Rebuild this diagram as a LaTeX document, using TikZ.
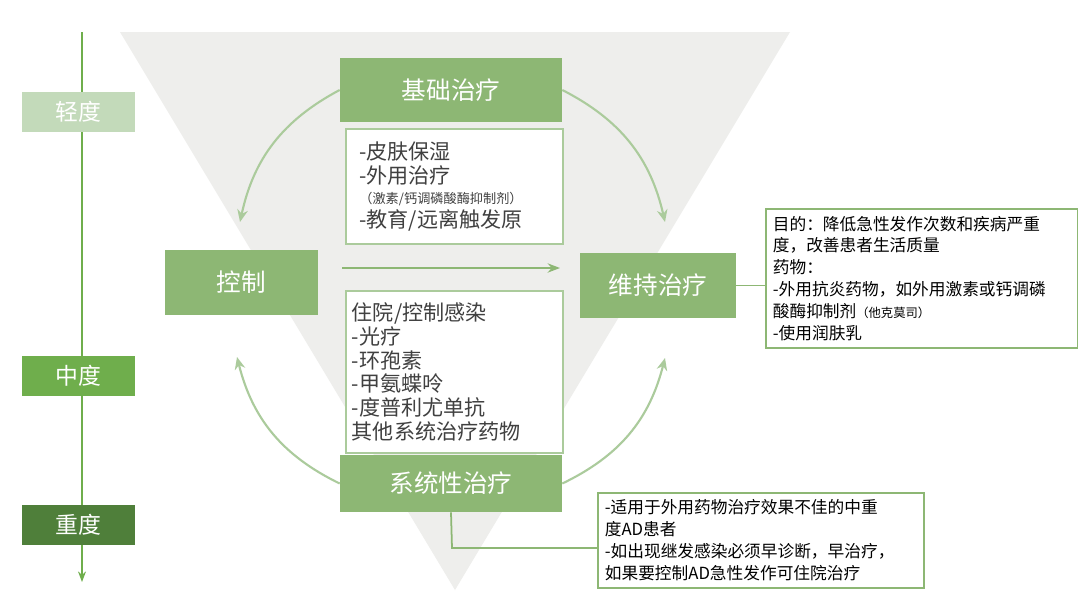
\documentclass[tikz,border=0pt]{standalone}
\usepackage{fontspec}
\setmainfont{Noto Sans CJK SC}
\usetikzlibrary{arrows.meta}
\definecolor{boxgreen}{HTML}{8DB774}
\definecolor{lightgreen}{HTML}{C3DABA}
\definecolor{midgreen}{HTML}{6FAE4C}
\definecolor{darkgreen}{HTML}{4F7F3A}
\definecolor{arcgreen}{HTML}{ABCB9C}
\definecolor{textgray}{HTML}{404040}
\definecolor{trigray}{HTML}{EEEEEC}
\tikzset{
  head/.style={rectangle, fill=boxgreen, text=white, font=\fontsize{14}{16}\selectfont, inner sep=0pt},
  level/.style={rectangle, text=white, font=\fontsize{13}{15}\selectfont, minimum width=2.26cm, minimum height=0.8cm, inner sep=0pt},
  content/.style={draw=arcgreen, line width=1pt, fill=white, text=textgray, align=left, anchor=north west, inner sep=0pt},
  note/.style={draw=boxgreen, line width=1pt, fill=white, text=black, align=left, anchor=north west, inner sep=4pt, font=\fontsize{9.5}{12.5}\selectfont},
  cycle/.style={draw=arcgreen, line width=1.2pt, -{Stealth[length=7pt,width=6pt]}}
}
\begin{document}
\begin{tikzpicture}[x=0.02cm, y=-0.02cm]
\useasboundingbox (0,0) rectangle (1080,599);
\fill[white] (0,0) rectangle (1080,599);
% background triangle
\fill[trigray] (120,32) -- (790,32) -- (455,590) -- cycle;
% severity axis
\coordinate (axis_top) at (82,32);
\coordinate (axis_end) at (82,582);
\draw[midgreen, line width=1.2pt, -{Stealth[length=6pt]}] (axis_top) -- (axis_end);
\node (mild) at (78.5,112) [level, fill=lightgreen] {轻度};
\node (moderate) at (78.5,376) [level, fill=midgreen] {中度};
\node (severe) at (78.5,525) [level, fill=darkgreen] {重度};
% content boxes
\node (basic_list) at (345,128) [content, minimum width=4.34cm, minimum height=2.3cm, text width=3.8cm, inner xsep=0.25cm, inner ysep=0.2cm, font=\fontsize{12}{14}\selectfont] {-皮肤保湿\\-外用治疗\\[-3pt]{\fontsize{7.5}{9}\selectfont （激素/钙调磷酸酶抑制剂）}\\-教育/远离触发原};
\node (systemic_list) at (345,290) [content, minimum width=4.34cm, minimum height=3.24cm, text width=4.1cm, inner xsep=0.12cm, inner ysep=0.08cm, font=\fontsize{12}{13.6}\selectfont] {住院/控制感染\\-光疗\\-环孢素\\-甲氨蝶呤\\-度普利尤单抗\\其他系统治疗药物};
% main boxes
\node (basic) at (451,90) [head, minimum width=4.44cm, minimum height=1.28cm] {基础治疗};
\node (control) at (241.5,282.5) [head, minimum width=3.06cm, minimum height=1.3cm] {控制};
\node (maintain) at (658,285.5) [head, minimum width=3.12cm, minimum height=1.3cm] {维持治疗};
\node (systemic) at (451,483.5) [head, minimum width=4.44cm, minimum height=1.14cm] {系统性治疗};
\node (maintain_note) at (765,208) [note, text width=5.95cm] {目的：降低急性发作次数和疾病严重\\度，改善患者生活质量\\药物：\\-外用抗炎药物，如外用激素或钙调磷\\酸酶抑制剂{\fontsize{7}{9}\selectfont（他克莫司）}\\-使用润肤乳};
\node (systemic_note) at (597,492) [note, text width=6.25cm] {-适用于外用药物治疗效果不佳的中重\\度AD患者\\-如出现继发感染必须早诊断，早治疗，\\如果要控制AD急性发作可住院治疗};
% connectors
\draw[boxgreen, line width=1pt] (maintain.east) -- (maintain_note.west |- maintain.east);
\coordinate (bend) at (452,548);
\draw[boxgreen, line width=1pt] (systemic.south) -- (bend) -- (bend -| systemic_note.west);
\draw[boxgreen, line width=1.2pt, -{Stealth[length=7pt]}] (342,268) -- (560,268);
% treatment cycle
\draw[cycle] (basic.west) to[bend right=25] (240,222);
\draw[cycle] (basic.east) to[bend left=25] (665,222);
\draw[cycle] (systemic.west) to[bend left=25] (237,357);
\draw[cycle] (systemic.east) to[bend right=25] (665,358);
\end{tikzpicture}
\end{document}
